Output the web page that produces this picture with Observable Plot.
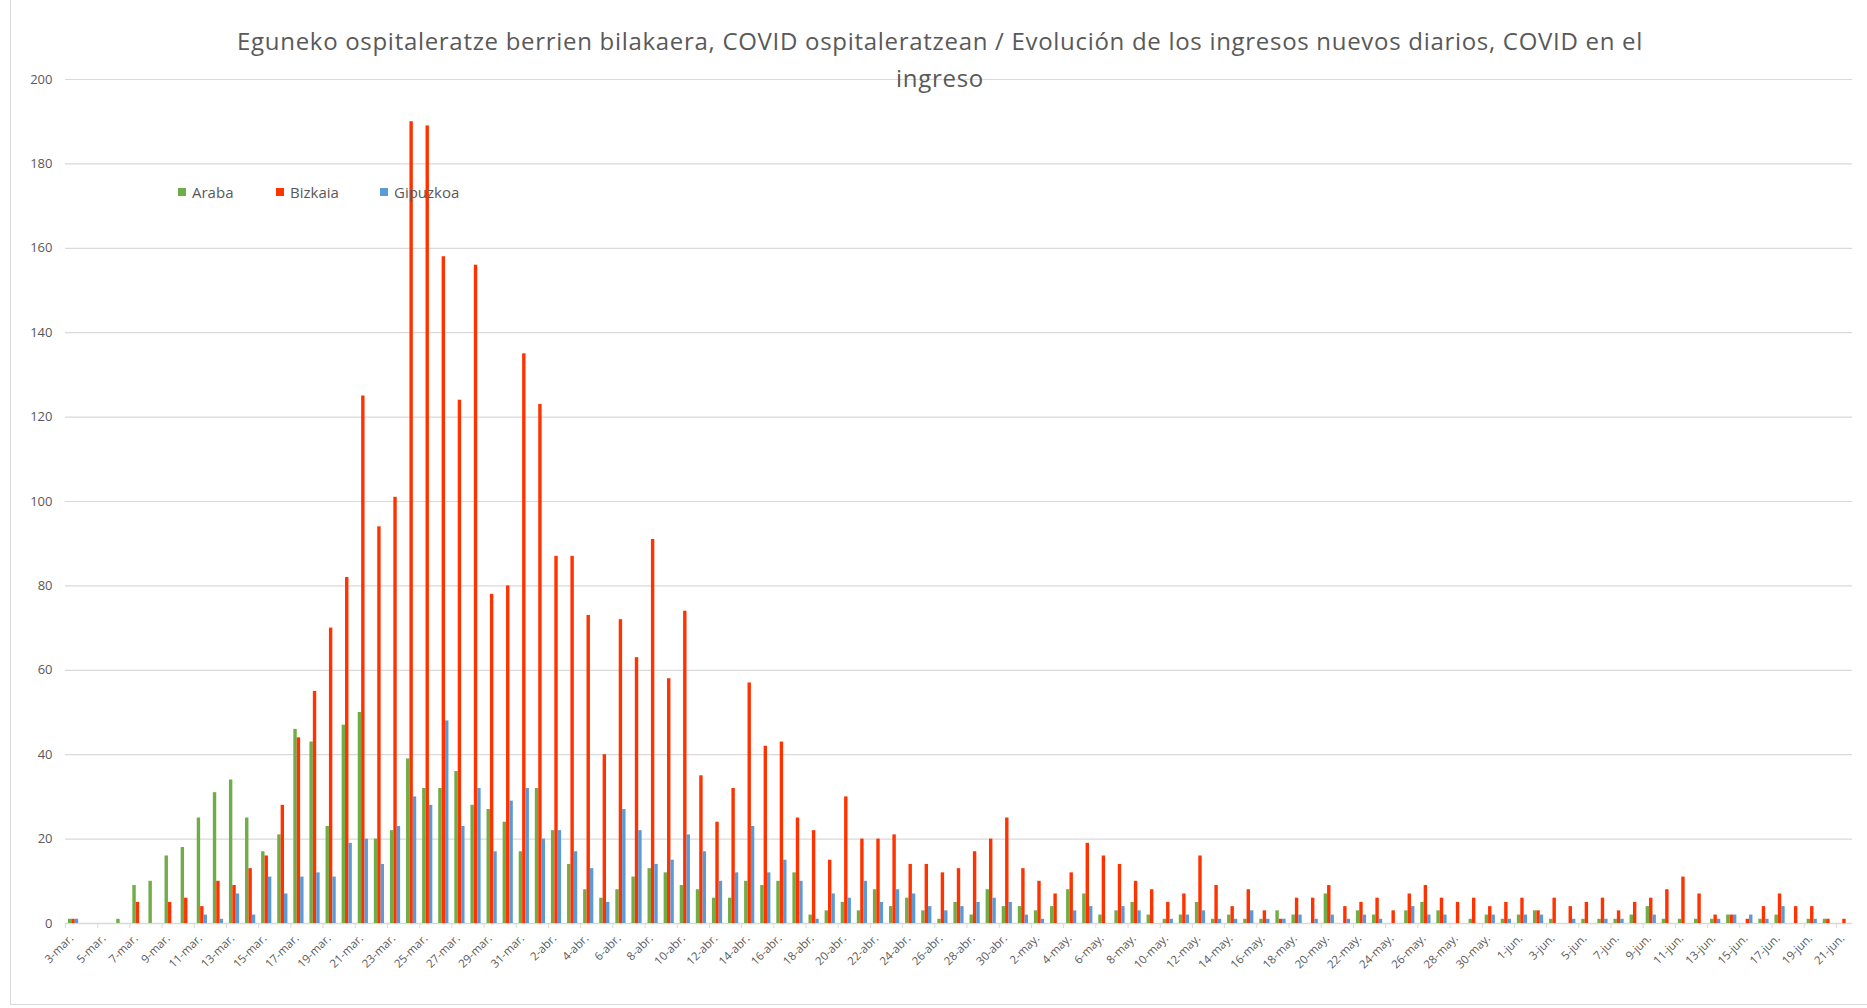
<!DOCTYPE html>
<html>
<head>
<meta charset="utf-8">
<script src="https://cdn.jsdelivr.net/npm/d3@7"></script>
<script src="https://cdn.jsdelivr.net/npm/@observablehq/plot@0.6"></script>
<style>
  html, body { margin: 0; padding: 0; background: #fff; }
  #wrap { position: relative; width: 1867px; height: 1008px; overflow: hidden; font-family: "Open Sans", sans-serif; }
  #border { position: absolute; left: 10px; top: -2px; width: 1900px; height: 1007px; border-left: 1px solid #d9d9d9; border-bottom: 1px solid #d9d9d9; box-sizing: border-box; }
  #title { position: absolute; left: 13px; width: 1854px; top: 22px; text-align: center; font-size: 24px; letter-spacing: 0.7px; line-height: 37px; color: #595959; font-family: "Open Sans", sans-serif; z-index: 2; }
  #legend { position: absolute; left: 178px; top: 182px; font-size: 15px; color: #595959; z-index: 2; }
  #legend .item { position: absolute; white-space: nowrap; display: flex; align-items: center; }
  #legend .sw { display: inline-block; width: 8px; height: 8px; margin-right: 6px; }
  #chart { position: absolute; left: 0; top: 0; }
</style>
</head>
<body>
<div id="wrap">
  <div id="border"></div>
  <div id="chart"></div>
  <div id="title">Eguneko ospitaleratze berrien bilakaera, COVID ospitaleratzean / Evolución de los ingresos nuevos diarios, COVID en el<br>ingreso</div>
  <div id="legend"></div>
</div>
<script>
const dates = [
  "3-mar.","4-mar.","5-mar.","6-mar.","7-mar.","8-mar.","9-mar.","10-mar.","11-mar.","12-mar.","13-mar.","14-mar.","15-mar.","16-mar.","17-mar.","18-mar.","19-mar.","20-mar.","21-mar.","22-mar.","23-mar.","24-mar.","25-mar.","26-mar.","27-mar.","28-mar.","29-mar.","30-mar.","31-mar.",
  "1-abr.","2-abr.","3-abr.","4-abr.","5-abr.","6-abr.","7-abr.","8-abr.","9-abr.","10-abr.","11-abr.","12-abr.","13-abr.","14-abr.","15-abr.","16-abr.","17-abr.","18-abr.","19-abr.","20-abr.","21-abr.","22-abr.","23-abr.","24-abr.","25-abr.","26-abr.","27-abr.","28-abr.","29-abr.","30-abr.",
  "1-may.","2-may.","3-may.","4-may.","5-may.","6-may.","7-may.","8-may.","9-may.","10-may.","11-may.","12-may.","13-may.","14-may.","15-may.","16-may.","17-may.","18-may.","19-may.","20-may.","21-may.","22-may.","23-may.","24-may.","25-may.","26-may.","27-may.","28-may.","29-may.","30-may.","31-may.",
  "1-jun.","2-jun.","3-jun.","4-jun.","5-jun.","6-jun.","7-jun.","8-jun.","9-jun.","10-jun.","11-jun.","12-jun.","13-jun.","14-jun.","15-jun.","16-jun.","17-jun.","18-jun.","19-jun.","20-jun.","21-jun."
];
const araba = [
  1,0,0,1,9,10,16,18,25,31,34,25,17,21,46,43,23,47,50,20,22,39,32,32,36,28,27,24,17,
  32,22,14,8,6,8,11,13,12,9,8,6,6,10,9,10,12,2,3,5,3,8,4,6,3,1,5,2,8,4,
  4,3,4,8,7,2,3,5,2,1,2,5,1,2,1,1,3,2,0,7,0,3,2,0,3,5,3,0,1,2,1,
  2,3,1,0,1,1,1,2,4,1,1,1,1,2,0,1,2,0,1,1,0
];
const bizkaia = [
  1,0,0,0,5,0,5,6,4,10,9,13,16,28,44,55,70,82,125,94,101,190,189,158,124,156,78,80,135,
  123,87,87,73,40,72,63,91,58,74,35,24,32,57,42,43,25,22,15,30,20,20,21,14,14,12,13,17,20,25,
  13,10,7,12,19,16,14,10,8,5,7,16,9,4,8,3,1,6,6,9,4,5,6,3,7,9,6,5,6,4,5,
  6,3,6,4,5,6,3,5,6,8,11,7,2,2,1,4,7,4,4,1,1
];
const gipuzkoa = [
  1,0,0,0,0,0,0,0,2,1,7,2,11,7,11,12,11,19,20,14,23,30,28,48,23,32,17,29,32,
  20,22,17,13,5,27,22,14,15,21,17,10,12,23,12,15,10,1,7,6,10,5,8,7,4,3,4,5,6,5,
  2,1,0,3,4,0,4,3,0,1,2,3,1,1,3,1,1,2,1,2,1,2,1,0,4,2,2,0,0,2,1,
  2,2,0,1,0,1,1,0,2,0,0,0,1,2,2,1,4,0,1,0,0
];
const seriesNames = ["Araba", "Bizkaia", "Gipuzkoa"];
const seriesColors = ["#70AD47", "#FF3300", "#5B9BD5"];
const yTicks = [0,20,40,60,80,100,120,140,160,180,200];

const seriesValues = [araba, bizkaia, gipuzkoa];
const rows = seriesNames.map((name, s) => dates.map((d, i) => ({date: d, series: name, value: seriesValues[s][i]})));
const labelDates = dates.filter((d, i) => i % 2 === 0);

const W = 1867, H = 1008;
const step = (1852 - 65) / dates.length;
const barW = 3.4;
const inset = (step - barW) / 2;
const grey = "#d9d9d9";
const textGrey = "#595959";

const barMarks = seriesNames.map((name, s) => Plot.barY(rows[s], {
  x: "date", y: "value", fill: seriesColors[s],
  insetLeft: inset, insetRight: inset, dx: (s - 1) * barW
}));

const chart = Plot.plot({
  width: W, height: H,
  marginTop: 79, marginBottom: H - 923, marginLeft: 65, marginRight: 15,
  style: {fontFamily: "'Open Sans', sans-serif", background: "transparent"},
  x: {type: "band", domain: dates, padding: 0, round: false, axis: null},
  y: {domain: [0, 200], axis: null},
  marks: [
    Plot.ruleY(yTicks.filter(t => t > 0), {stroke: grey, strokeWidth: 1.2}),
    Plot.ruleY([0], {stroke: grey, strokeWidth: 1.3}),
    Plot.axisX({ticks: labelDates, tickSize: 5, dx: -step / 2, stroke: grey, tickFormat: () => "", label: null}),
    Plot.axisX({ticks: labelDates, tickSize: 0, tickPadding: 13, tickRotate: -45, fontSize: 11.5, fill: textGrey, dx: -2, label: null}),
    Plot.axisY({ticks: yTicks, tickSize: 0, tickPadding: 13, fontSize: 13, fill: textGrey, label: null}),
    ...barMarks
  ]
});
document.getElementById("chart").appendChild(chart);

const legend = document.getElementById("legend");
const offsets = [0, 98, 202];
seriesNames.forEach((name, s) => {
  const item = document.createElement("div");
  item.className = "item";
  item.style.left = offsets[s] + "px";
  const sw = document.createElement("span");
  sw.className = "sw";
  sw.style.background = seriesColors[s];
  item.appendChild(sw);
  item.appendChild(document.createTextNode(name));
  legend.appendChild(item);
});
</script>
</body>
</html>
